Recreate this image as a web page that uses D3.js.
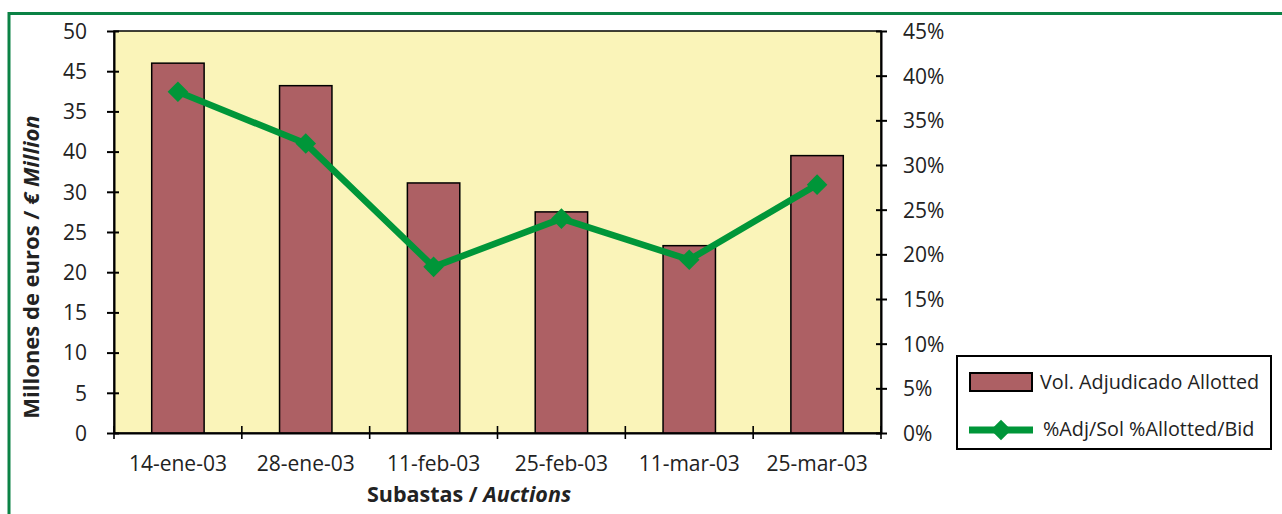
<!DOCTYPE html>
<html>
<head>
<meta charset="utf-8">
<script src="https://cdn.jsdelivr.net/npm/d3@7"></script>
<style>
  body { margin: 0; background: #fff; }
  svg text { font-family: "Open Sans", "DejaVu Sans", sans-serif; fill: #222; }
</style>
</head>
<body>
<script>
// auctions
var auctions = ["14-ene-03", "28-ene-03", "11-feb-03", "25-feb-03", "11-mar-03", "25-mar-03"];
// allotted volume, millions of euros
var allotted = [46.0, 43.2, 31.1, 27.5, 23.3, 34.5];
// allotted / bid ratio
var ratio = [0.382, 0.324, 0.186, 0.240, 0.194, 0.278];
// left axis tick labels as printed, bottom to top
var leftTickLabels = ["0", "5", "10", "15", "20", "25", "30", "40", "35", "45", "50"];
var leftTicks = [0, 5, 10, 15, 20, 25, 30, 35, 40, 45, 50];
var rightTicks = [0, 0.05, 0.10, 0.15, 0.20, 0.25, 0.30, 0.35, 0.40, 0.45];

var width = 1282, height = 514;
var plot = {left: 114, top: 31, right: 881, bottom: 433};

var svg = d3.select("body").append("svg")
    .attr("width", width)
    .attr("height", height);

//outer green frame
svg.append("rect")
    .attr("x", 9).attr("y", 13.5)
    .attr("width", 1300).attr("height", 540)
    .attr("fill", "none")
    .attr("stroke", "#0b8245")
    .attr("stroke-width", 3);

var x = d3.scaleBand()
    .domain(auctions)
    .range([plot.left, plot.right])
    .paddingInner(0.59)
    .paddingOuter(0.295);

var y = d3.scaleLinear().domain([0, 50]).range([plot.bottom, plot.top]);
var y2 = d3.scaleLinear().domain([0, 0.45]).range([plot.bottom, plot.top]);

//plot background
svg.append("rect")
    .attr("x", plot.left).attr("y", plot.top)
    .attr("width", plot.right - plot.left).attr("height", plot.bottom - plot.top)
    .attr("fill", "#faf4b9")
    .attr("stroke", "#000")
    .attr("stroke-width", 1.5);

//bars
svg.selectAll(".bar")
    .data(allotted)
    .enter()
    .append("rect")
    .attr("class", "bar")
    .attr("x", function(d, i){ return x(auctions[i]); })
    .attr("y", function(d){ return y(d); })
    .attr("width", x.bandwidth())
    .attr("height", function(d){ return y(0) - y(d); })
    .attr("fill", "#ad6064")
    .attr("stroke", "#000")
    .attr("stroke-width", 1.5);

//line
var line = d3.line()
    .x(function(d, i){ return x(auctions[i]) + x.bandwidth() / 2; })
    .y(function(d){ return y2(d); });

svg.append("path")
    .datum(ratio)
    .attr("d", line)
    .attr("fill", "none")
    .attr("stroke", "#009639")
    .attr("stroke-width", 6.5)
    .attr("stroke-linejoin", "round");

var diamond = d3.symbol().type(d3.symbolDiamond2).size(270);
svg.selectAll(".pt")
    .data(ratio)
    .enter()
    .append("path")
    .attr("class", "pt")
    .attr("d", diamond)
    .attr("transform", function(d, i){
        return "translate(" + (x(auctions[i]) + x.bandwidth() / 2) + "," + y2(d) + ")";
    })
    .attr("fill", "#009639");

//left axis
var leftAxis = d3.axisLeft(y)
    .tickValues(leftTicks)
    .tickSizeInner(7).tickSizeOuter(0)
    .tickPadding(20)
    .tickFormat(function(d, i){ return leftTickLabels[i]; });
var gl = svg.append("g")
    .attr("transform", "translate(" + plot.left + ",0)")
    .call(leftAxis);
gl.selectAll(".tick line").attr("x2", -7).attr("x1", 5);

//right axis
var rightAxis = d3.axisRight(y2)
    .tickValues(rightTicks)
    .tickSizeInner(6).tickSizeOuter(0)
    .tickPadding(16)
    .tickFormat(d3.format(".0%"));
var gr = svg.append("g")
    .attr("transform", "translate(" + plot.right + ",0)")
    .call(rightAxis);
gr.selectAll(".tick line").attr("x1", -5).attr("x2", 6);

//bottom axis, ticks at category boundaries
var gb = svg.append("g")
    .attr("transform", "translate(0," + plot.bottom + ")")
    .call(d3.axisBottom(x).tickSize(0).tickPadding(23));
var bounds = d3.range(auctions.length + 1).map(function(i){ return plot.left + i * (plot.right - plot.left) / auctions.length; });
gb.selectAll(".bnd")
    .data(bounds)
    .enter()
    .append("line")
    .attr("x1", function(d){ return d; })
    .attr("x2", function(d){ return d; })
    .attr("y1", -7).attr("y2", 6)
    .attr("stroke", "#000")
    .attr("stroke-width", 1.6);

[gl, gr, gb].forEach(function(g){
    g.selectAll(".domain").attr("stroke", "#000").attr("stroke-width", 2);
    g.selectAll(".tick line").attr("stroke", "#000").attr("stroke-width", 2);
    g.selectAll("text").style("font-size", "21px").attr("fill", "#222")
        .style("font-family", "'Open Sans', sans-serif");
});
gl.selectAll("text").attr("dy", "0.35em");
gr.selectAll("text").attr("dy", "0.35em");

//axis titles
var xt = svg.append("text")
    .attr("x", 469).attr("y", 502)
    .attr("text-anchor", "middle")
    .style("font-size", "21.5px").style("font-weight", "bold");
xt.append("tspan").text("Subastas / ");
xt.append("tspan").style("font-style", "italic").text("Auctions");

var yt = svg.append("text")
    .attr("transform", "translate(39,267) rotate(-90)")
    .attr("text-anchor", "middle")
    .style("font-size", "22px").style("font-weight", "bold");
yt.append("tspan").text("Millones de euros / ");
yt.append("tspan").style("font-style", "italic").text("€ Million");

//legend
var lg = svg.append("g");
lg.append("rect")
    .attr("x", 957).attr("y", 356)
    .attr("width", 314).attr("height", 93)
    .attr("fill", "#fff")
    .attr("stroke", "#000")
    .attr("stroke-width", 2);
lg.append("rect")
    .attr("x", 970).attr("y", 373)
    .attr("width", 62).attr("height", 18)
    .attr("fill", "#ad6064")
    .attr("stroke", "#000")
    .attr("stroke-width", 2);
lg.append("text")
    .attr("x", 1040).attr("y", 389)
    .style("font-size", "19.8px")
    .text("Vol. Adjudicado Allotted");
lg.append("line")
    .attr("x1", 969).attr("x2", 1033)
    .attr("y1", 430).attr("y2", 430)
    .attr("stroke", "#009639")
    .attr("stroke-width", 7);
lg.append("path")
    .attr("d", diamond)
    .attr("transform", "translate(1001,430)")
    .attr("fill", "#009639");
lg.append("text")
    .attr("x", 1043).attr("y", 436)
    .style("font-size", "19.8px")
    .text("%Adj/Sol %Allotted/Bid");
</script>
</body>
</html>
